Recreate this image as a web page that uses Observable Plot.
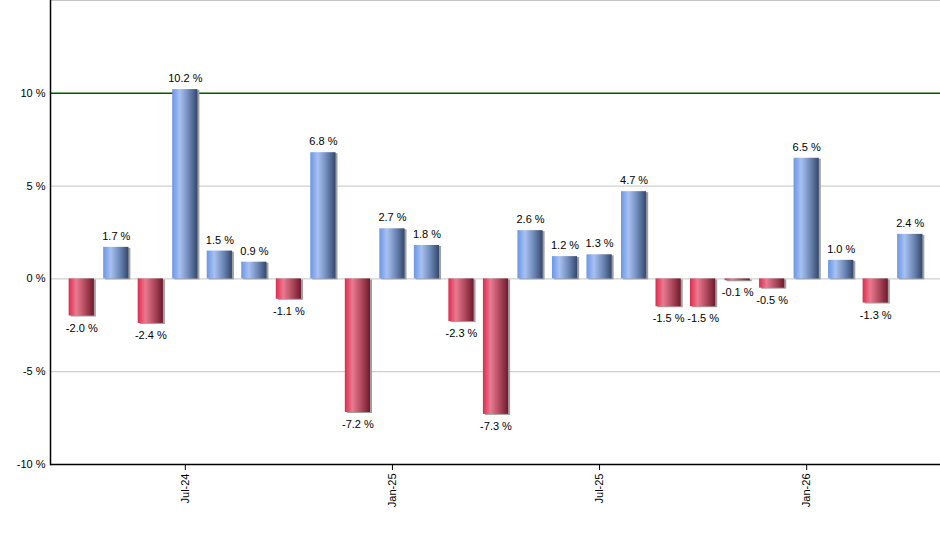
<!DOCTYPE html>
<html>
<head>
<meta charset="utf-8">
<script src="https://cdn.jsdelivr.net/npm/d3@7"></script>
<script src="https://cdn.jsdelivr.net/npm/@observablehq/plot@0.6"></script>
<style>
  body { margin: 0; background: #fff; }
  #chart svg { display: block; }
</style>
</head>
<body>
<div id="chart"></div>
<script>
const months = ["Apr-24","May-24","Jun-24","Jul-24","Aug-24","Sep-24","Oct-24","Nov-24","Dec-24",
  "Jan-25","Feb-25","Mar-25","Apr-25","May-25","Jun-25","Jul-25","Aug-25","Sep-25","Oct-25","Nov-25","Dec-25",
  "Jan-26","Feb-26","Mar-26","Apr-26"];
const values = [-2.0, 1.7, -2.4, 10.2, 1.5, 0.9, -1.1, 6.8, -7.2,
  2.7, 1.8, -2.3, -7.3, 2.6, 1.2, 1.3, 4.7, -1.5, -1.5, -0.1, -0.5,
  6.5, 1.0, -1.3, 2.4];
const xTicks = ["Jul-24", "Jan-25", "Jul-25", "Jan-26"];
const yTicks = [-10, -5, 0, 5, 10];
const grayGrid = [15, 5, 0, -5];
const greenGrid = [10];

const data = months.map((m, i) => ({month: m, value: values[i]}));
const pos = data.filter(d => d.value >= 0);
const neg = data.filter(d => d.value < 0);
const fmt = d => d.value.toFixed(1) + " %";

const chart = Plot.plot({
  width: 940,
  height: 550,
  marginLeft: 50,
  marginRight: 0,
  marginTop: 0,
  marginBottom: 86,
  style: {fontFamily: "'Liberation Sans', Arial, sans-serif", fontSize: "11px", color: "#000", background: "#fff"},
  x: {type: "band", domain: months, round: false, paddingInner: 0.27, paddingOuter: 0.135, insetLeft: 14, insetRight: 13, label: null},
  y: {domain: [-10, 15], label: null},
  marks: [
    Plot.ruleY(grayGrid, {stroke: "#c4c4c4", strokeWidth: 1}),
    Plot.ruleY(greenGrid, {stroke: "#005a00", strokeWidth: 1.4}),
    Plot.barY(data, {x: "month", y: "value", fill: "#a0a0a0", dx: 2, dy: 1}),
    Plot.barY(pos, {x: "month", y: "value", fill: "url(#gBlue)"}),
    Plot.barY(neg, {x: "month", y: "value", fill: "url(#gRed)"}),
    Plot.text(pos, {x: "month", y: "value", text: fmt, dy: -11, fill: "#000"}),
    Plot.text(neg, {x: "month", y: "value", text: fmt, dy: 12, fill: "#000"}),
    Plot.axisY({ticks: yTicks, tickFormat: d => d + " %", tickSize: 0, tickPadding: 5, fontSize: 11}),
    Plot.axisX({ticks: xTicks, tickSize: 6, tickRotate: -90, tickPadding: 3, fontSize: 11}),
    Plot.ruleY([-10], {stroke: "#000", strokeWidth: 1.5}),
    Plot.frame({anchor: "left", stroke: "#000", strokeWidth: 1.5})
  ]
});

const svg = d3.select(chart);
const defs = svg.insert("defs", ":first-child");
function grad(id, stops) {
  const g = defs.append("linearGradient").attr("id", id)
    .attr("x1", "0").attr("y1", "0").attr("x2", "1").attr("y2", "0");
  stops.forEach(([o, c]) => g.append("stop").attr("offset", o).attr("stop-color", c));
}
grad("gBlue", [[0, "#6a96e6"], [0.3, "#a8c1f2"], [0.65, "#6e89b8"], [1, "#34476b"]]);
grad("gRed", [[0, "#de2a4c"], [0.3, "#ea7a90"], [0.65, "#b04a5e"], [1, "#6e1a2c"]]);

document.getElementById("chart").appendChild(chart);
</script>
</body>
</html>
